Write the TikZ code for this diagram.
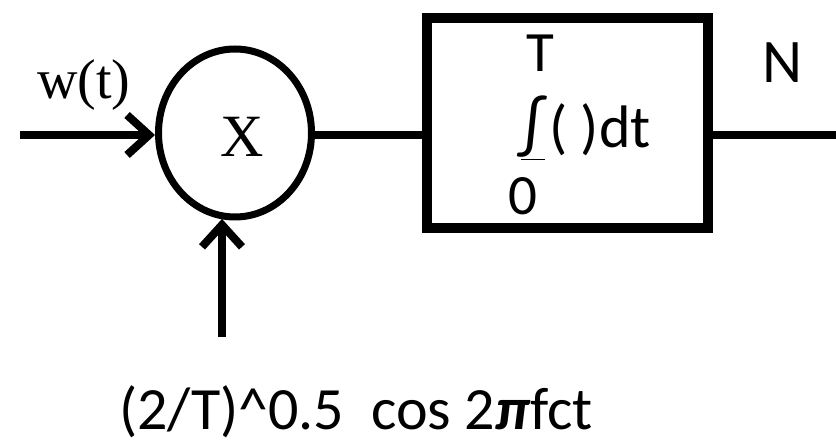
\documentclass[tikz,border=0pt]{standalone}
\usepackage{fontspec}
\setmainfont{Carlito}
\newfontfamily\serifface{Liberation Serif}
\usetikzlibrary{arrows.meta,shapes.geometric}

\begin{document}
\begin{tikzpicture}[x=1pt, y=-1pt, >={Straight Barb[length=22pt,width=40pt]}]
  \tikzset{
    wire/.style={line width=8pt},
    bigserif/.style={font=\serifface\fontsize{56}{56}\selectfont},
    bigsans/.style={font=\fontsize{62}{62}\selectfont},
  }
  \useasboundingbox (0,0) rectangle (836,446);

  % Multiplier
  \node[draw, ellipse, line width=7pt, inner sep=0pt,
        minimum width=153pt, minimum height=168pt] (mix) at (235,133) {};
  \node[font=\serifface\fontsize{60}{60}\selectfont, inner sep=0pt] (mixsym) at (242,137) {X};

  % Integrator
  \node[draw, line width=10pt, inner sep=0pt,
        minimum width=281pt, minimum height=210pt] (box) at (567.5,123) {};
  \node[font=\fontsize{57}{57}\selectfont, inner sep=0pt] (upper) at (540,53) {T};
  \node[font=\fontsize{66}{66}\selectfont, inner sep=0pt] (intsign) at (533,128) {\underline{∫}};
  \node[font=\fontsize{60}{60}\selectfont, inner sep=0pt, anchor=west] (integrand) at (549,130) {( )dt};
  \node[font=\fontsize{57}{57}\selectfont, inner sep=0pt] (lower) at (523,196) {0};

  % Signals
  \coordinate (src) at (20,135);
  \coordinate (carrier) at (222,337);
  \coordinate (out) at (836,135);
  \draw[wire,->] (src) -- (src -| mix.west);
  \draw[wire,->] (carrier) -- (carrier |- mix.260);
  \draw[wire] (mix.east |- src) -- (src -| box.west);
  \draw[wire] (box.east |- out) -- (out);

  % Labels
  \node[bigserif, inner sep=0pt] (wlab) at (84,85) {w(t)};
  \node[bigsans, inner sep=0pt] (nlab) at (783,63) {N};
  \node[font=\fontsize{60}{60}\selectfont, inner sep=0pt] (carrlab) at (356,412)
    {(2/T)\^{}0.5\ \ cos 2{\bfseries\itshape π}fct};
\end{tikzpicture}
\end{document}
